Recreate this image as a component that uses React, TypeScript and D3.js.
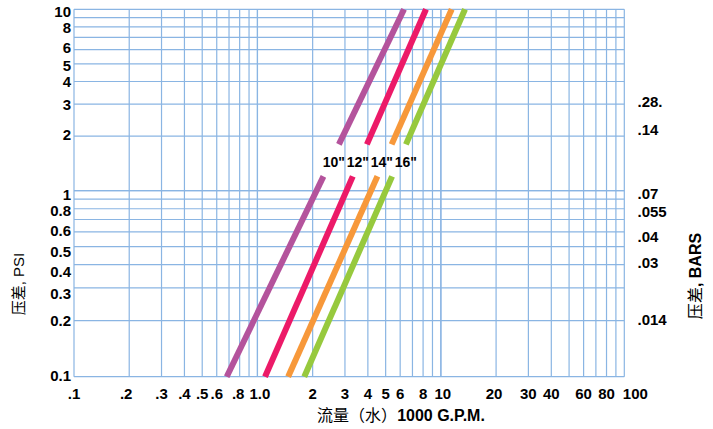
import React from "react";
import * as d3 from "d3";

// ---- data ----
const xTickValues = [0.1, 0.2, 0.3, 0.4, 0.5, 0.6, 0.8, 1, 2, 3, 4, 5, 6, 8, 10, 20, 30, 40, 60, 80, 100];
const xTickLabels = [".1", ".2", ".3", ".4", ".5", ".6", ".8", "1.0", "2", "3", "4", "5", "6", "8", "10", "20", "30", "40", "60", "80", "100"];
const yTickValues = [10, 8, 6, 5, 4, 3, 2, 1, 0.8, 0.6, 0.5, 0.4, 0.3, 0.2, 0.1];
const yTickLabels = ["10", "8", "6", "5", "4", "3", "2", "1", "0.8", "0.6", "0.5", "0.4", "0.3", "0.2", "0.1"];
const barLabels = [".28.", ".14", ".07", ".055", ".04", ".03", ".014"];
const barAnchorPsi = [3, 2, 1, 0.8, 0.6, 0.4, 0.2];

const sizeLabels = ['10"', '12"', '14"', '16"'];
// pressure (PSI) at segment ends: lower segment [0.1 -> 1.2], upper segment [1.8 -> 10]
const pressurePts = [0.1, 1.2, 1.8, 10];
const flow10 = [0.68, 2.29, 2.78, 6.3];
const flow12 = [1.1, 3.31, 3.95, 8.3];
const flow14 = [1.47, 4.51, 5.39, 11.46];
const flow16 = [1.8, 5.42, 6.45, 13.54];
const seriesFlows = [flow10, flow12, flow14, flow16];
const seriesColors = ["#b4539c", "#ec1a68", "#f7983a", "#97c93d"];

const W = 713;
const H = 429;
const LEFT = 74;
const RIGHT = 624.3;
const TOP = 9.3;
const BOTTOM = 376.7;
const GRID = "#8ab5e3";
const LATIN = "'Liberation Sans', Arial, sans-serif";
const CJK = "'Noto Sans CJK SC', 'Liberation Sans', sans-serif";

// small label nudges (layout only) to mirror the reference's hand placement
const leftNudge: Record<string, number> = {
  "10": 2.5, "8": 1, "6": -2, "5": 1.5, "2": -1, "1": 4, "0.8": 2, "0.6": -1.5,
  "0.5": 4.5, "0.4": 6.5, "0.3": 5.5, "0.1": -1.5,
};
const rightNudge: Record<string, number> = {
  ".28.": -3, ".14": -6, ".07": 3, ".055": 3, ".04": 5, ".03": -2, ".014": -1,
};
const xNudge: Record<string, number> = { ".2": -3, ".8": -1.5, "1.0": 2.5, "10": 2, "20": -2 };

export default function App() {
  const x = d3.scaleLog().domain([0.1, 100]).range([LEFT, RIGHT]);
  const y = d3.scaleLog().domain([0.1, 1, 10]).range([BOTTOM, 190.7, TOP]);

  const xGrid: number[] = [];
  [0.1, 1, 10].forEach((dec) => {
    for (let k = 1; k <= 10; k++) xGrid.push(+(dec * k).toFixed(3));
  });
  const yGrid: number[] = [];
  [0.1, 1].forEach((dec) => {
    for (let k = 1; k <= 10; k++) yGrid.push(+(dec * k).toFixed(3));
  });

  const line = d3
    .line<[number, number]>()
    .x((d) => x(d[0]))
    .y((d) => y(d[1]));

  return (
    <svg
      width={W}
      height={H}
      style={{ position: "absolute", left: 0, top: 0, background: "#fff" }}
    >
      {/* grid */}
      <g stroke={GRID} strokeWidth={1.2}>
        {xGrid.map((v, i) => (
          <line key={"gx" + i} x1={x(v)} x2={x(v)} y1={TOP} y2={BOTTOM} />
        ))}
        {yGrid.map((v, i) => (
          <line key={"gy" + i} x1={LEFT} x2={RIGHT} y1={y(v)} y2={y(v)} />
        ))}
      </g>

      {/* series */}
      <g fill="none" strokeWidth={6} strokeLinecap="butt">
        {seriesFlows.map((flows, si) => (
          <g key={"s" + si} stroke={seriesColors[si]}>
            <path
              d={
                line([
                  [flows[0], pressurePts[0]],
                  [flows[1], pressurePts[1]],
                ]) || ""
              }
            />
            <path
              d={
                line([
                  [flows[2], pressurePts[2]],
                  [flows[3], pressurePts[3]],
                ]) || ""
              }
            />
          </g>
        ))}
      </g>

      {/* size labels */}
      <g fontFamily={LATIN} fontWeight="bold" fontSize={14} fill="#000">
        {sizeLabels.map((s, i) => (
          <text key={"sl" + i} x={322.7 + i * 24} y={166.7}>
            {s}
          </text>
        ))}
      </g>

      {/* left y ticks */}
      <g fontFamily={LATIN} fontWeight="bold" fontSize={15} fill="#000" textAnchor="end">
        {yTickValues.map((v, i) => (
          <text
            key={"yt" + i}
            x={71}
            y={y(v) + (leftNudge[yTickLabels[i]] || 0)}
            dy="0.36em"
          >
            {yTickLabels[i]}
          </text>
        ))}
      </g>

      {/* right bar labels */}
      <g fontFamily={LATIN} fontWeight="bold" fontSize={15} fill="#000" textAnchor="start">
        {barLabels.map((s, i) => (
          <text
            key={"bt" + i}
            x={637.5}
            y={y(barAnchorPsi[i]) + (rightNudge[s] || 0)}
            dy="0.36em"
          >
            {s}
          </text>
        ))}
      </g>

      {/* x ticks */}
      <g fontFamily={LATIN} fontWeight="bold" fontSize={15} fill="#000">
        {xTickValues.map((v, i) => {
          const last = i === xTickValues.length - 1;
          return (
            <text
              key={"xt" + i}
              x={last ? x(v) - 1.5 : x(v) + (xNudge[xTickLabels[i]] || 0)}
              y={398.5}
              textAnchor={last ? "start" : "middle"}
            >
              {xTickLabels[i]}
            </text>
          );
        })}
      </g>

      {/* axis titles */}
      <text x={401} y={421} textAnchor="middle" fontSize={16} fill="#000">
        <tspan fontFamily={CJK}>流量（水）</tspan>
        <tspan fontFamily={LATIN} fontWeight="bold">1000 G.P.M.</tspan>
      </text>
      <text
        transform="translate(24,284) rotate(-90)"
        textAnchor="middle"
        fontSize={15}
        fill="#000"
      >
        <tspan fontFamily={CJK}>压差</tspan>
        <tspan fontFamily={LATIN}>, PSI</tspan>
      </text>
      <text
        transform="translate(701,276) rotate(-90)"
        textAnchor="middle"
        fontSize={16}
        fill="#000"
      >
        <tspan fontFamily={CJK}>压差</tspan>
        <tspan fontFamily={LATIN} fontWeight="bold">, BARS</tspan>
      </text>
    </svg>
  );
}
